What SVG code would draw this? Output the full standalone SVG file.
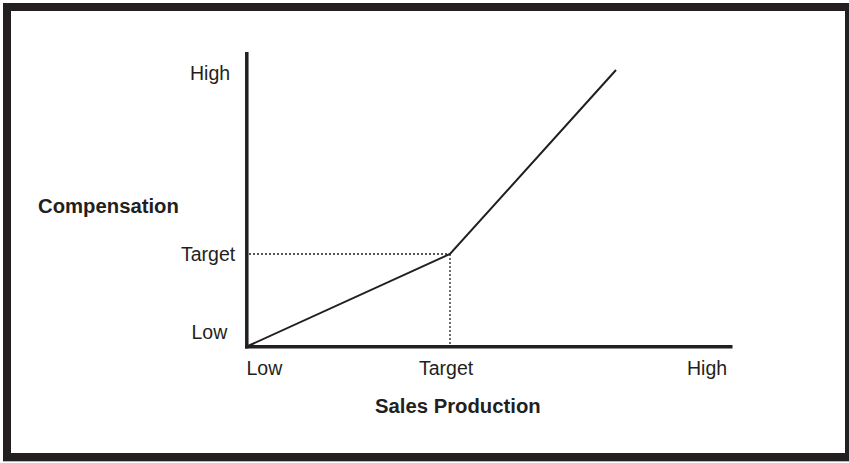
<svg xmlns="http://www.w3.org/2000/svg" width="849" height="463" viewBox="0 0 849 463">
<style>
text{font-family:"Liberation Sans",Arial,sans-serif;fill:#231f20}
.lbl{font-size:19.5px}
.ttl{font-size:20.3px;font-weight:bold}
.axis{stroke:#231f20;stroke-width:3.5;fill:none}
.curve{stroke:#231f20;stroke-width:2;fill:none;stroke-linejoin:miter}
.dot{stroke:#231f20;stroke-width:1.3;stroke-dasharray:2 2;fill:none}
</style>
<rect x="0" y="0" width="849" height="463" fill="#ffffff"/>
<rect id="frame" x="7" y="7" width="842" height="450" fill="none" stroke="#231f20" stroke-width="8"/>
<line x1="3" y1="461.5" x2="849" y2="461.5" stroke="#bbbbbb" stroke-width="1"/>
<g id="connectors">
<line class="dot" x1="249" y1="254" x2="450" y2="254"/>
<line class="dot" x1="450" y1="254" x2="450" y2="345"/>
<polyline class="curve" points="248,346 450,254 616,70"/>
<line class="axis" x1="246.8" y1="52" x2="246.8" y2="348.5"/>
<line class="axis" x1="245" y1="346.7" x2="732.5" y2="346.7"/>
</g>
<g id="y-labels">
<text class="lbl" x="190" y="80">High</text>
<text class="lbl" x="181" y="261">Target</text>
<text class="lbl" x="191.5" y="339">Low</text>
</g>
<g id="x-labels">
<text class="lbl" x="246.5" y="375">Low</text>
<text class="lbl" x="419" y="375">Target</text>
<text class="lbl" x="687" y="375">High</text>
</g>
<g id="titles">
<text class="ttl" x="38" y="213">Compensation</text>
<text class="ttl" x="375" y="413">Sales Production</text>
</g>
</svg>
